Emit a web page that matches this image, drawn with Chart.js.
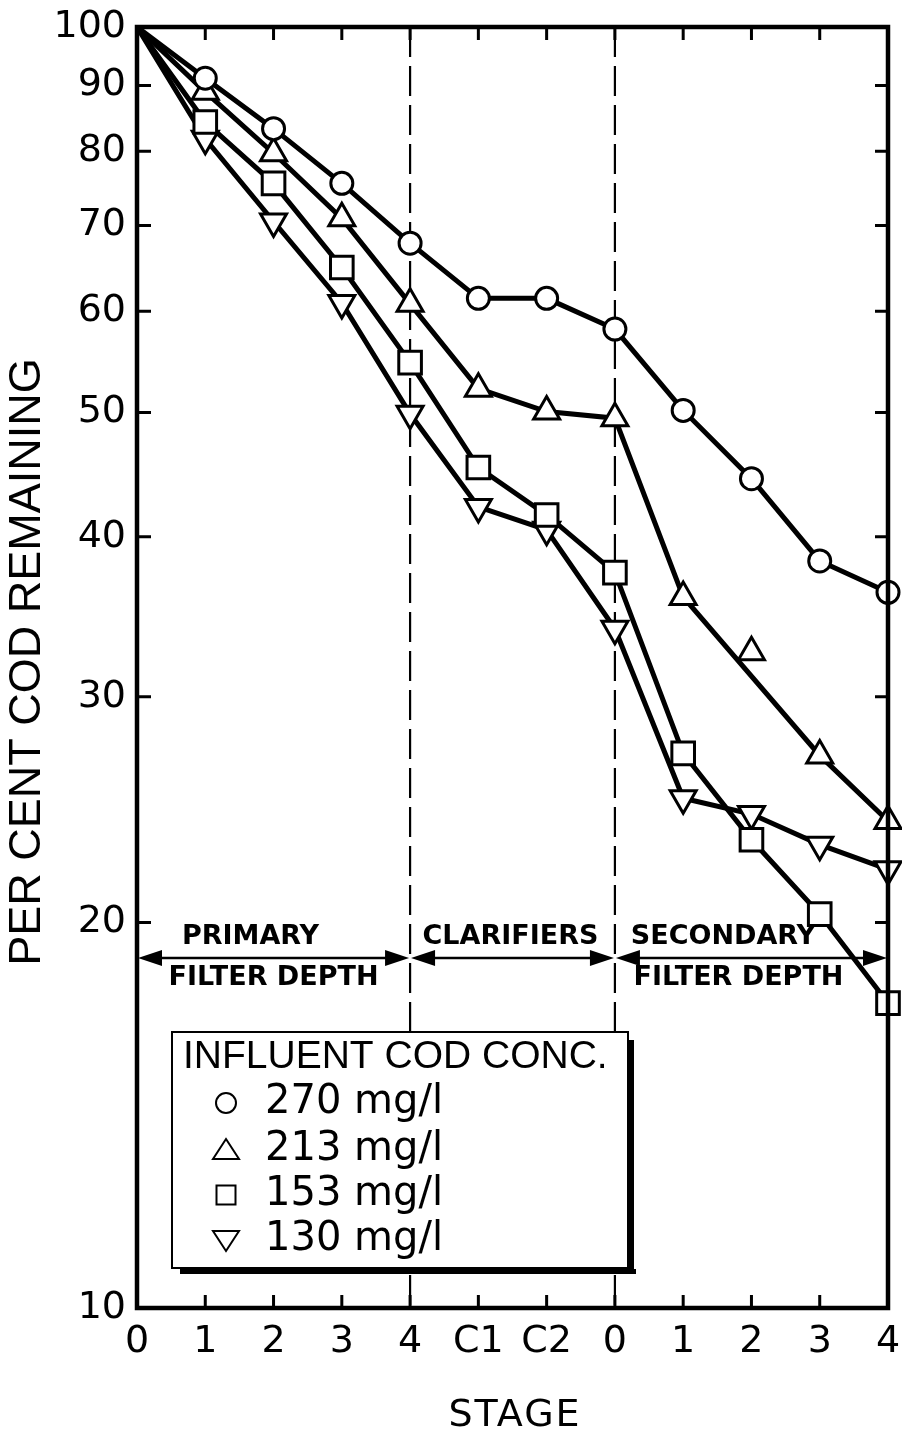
<!DOCTYPE html>
<html>
<head>
<meta charset="utf-8">
<script src="https://cdn.jsdelivr.net/npm/chart.js@4"></script>
<style>
  html, body { margin: 0; padding: 0; background: #fff; }
  canvas { display: block; }
</style>
</head>
<body>
<canvas id="chart" width="902" height="1436"></canvas>
<script>
const stageLabels = ['0', '1', '2', '3', '4', 'C1', 'C2', '0', '1', '2', '3', '4']
const yTickValues = [10, 20, 30, 40, 50, 60, 70, 80, 90, 100]

// per cent COD remaining, one value per stage
const cod270 = [100, 91.2, 83.3, 75.5, 67.8, 61.4, 61.4, 58.1, 50.2, 44.4, 38.3, 36.2]
const cod213 = [100, 89.0, 79.7, 70.9, 60.8, 52.2, 50.1, 49.5, 35.9, 32.5, 27.0, 24.0]
const cod153 = [100, 84.3, 75.5, 64.9, 54.7, 45.3, 41.6, 37.5, 27.1, 23.2, 20.3, 17.3]
const cod130 = [100, 81.8, 70.5, 60.9, 49.9, 42.2, 40.5, 33.9, 25.0, 24.3, 23.0, 22.0]
const cod213LineSkips = [9] // the 213 mg/l line runs past this point

const seriesNames = ['270 mg/l', '213 mg/l', '153 mg/l', '130 mg/l']
const legendTitle = 'INFLUENT COD CONC.'
const yTitle = 'PER CENT COD REMAINING'
const xTitle = 'STAGE'

// stage groups: start/end index on the x axis and their captions
const phaseEdges = [0, 4, 7, 11]
const phaseTop = ['PRIMARY', 'CLARIFIERS', 'SECONDARY']
const phaseBottom = ['FILTER DEPTH', '', 'FILTER DEPTH']

const INK = '#000'

function series(data, style, extra) {
  return {
    data: data,
    borderColor: INK,
    borderWidth: 5,
    backgroundColor: '#fff',
    pointBackgroundColor: '#fff',
    pointBorderColor: INK,
    pointBorderWidth: 3,
    pointStyle: style.shape,
    pointRotation: style.rotation || 0,
    pointRadius: data.map((v, i) => i === 0 ? 0 : style.radius),
    tension: 0,
    clip: false,
    ...extra
  }
}

const circleStyle = { shape: 'circle', radius: 11 }
const triStyle = { shape: 'triangle', radius: 15 }
const rectStyle = { shape: 'rect', radius: 16 }
const downStyle = { shape: 'triangle', radius: 15, rotation: 180 }

let line213 = cod213.map((v, i) => cod213LineSkips.includes(i) ? null : v)
let marks213 = cod213.map((v, i) => cod213LineSkips.includes(i) ? v : null)

function drawArrowHead(ctx, x, y, dir) {
  ctx.beginPath()
  ctx.moveTo(x, y)
  ctx.lineTo(x - dir * 24, y - 8)
  ctx.lineTo(x - dir * 24, y + 8)
  ctx.closePath()
  ctx.fill()
}

function drawSymbol(ctx, shape, x, y) {
  ctx.beginPath()
  if (shape === 'circle') {
    ctx.arc(x, y, 10, 0, Math.PI * 2)
  } else if (shape === 'rect') {
    ctx.rect(x - 9.5, y - 9.5, 19, 19)
  } else if (shape === 'up') {
    ctx.moveTo(x, y - 11); ctx.lineTo(x + 13, y + 9); ctx.lineTo(x - 13, y + 9); ctx.closePath()
  } else {
    ctx.moveTo(x, y + 11); ctx.lineTo(x + 13, y - 9); ctx.lineTo(x - 13, y - 9); ctx.closePath()
  }
  ctx.stroke()
}

const decorations = {
  id: 'decorations',
  beforeDatasetsDraw(chart) {
    const { ctx, chartArea: a, scales: { x } } = chart
    ctx.save()
    ctx.strokeStyle = INK
    ctx.fillStyle = INK

    // dashed separators between the stage groups
    ctx.lineWidth = 2.2
    ctx.setLineDash([30, 9])
    for (const i of phaseEdges.slice(1, -1)) {
      let px = x.getPixelForValue(i)
      ctx.beginPath(); ctx.moveTo(px, a.top); ctx.lineTo(px, a.bottom); ctx.stroke()
    }
    ctx.setLineDash([])

    // double arrows and captions
    const ay = 958
    const topOffsets = [-23, -2, -28]
    const bottomOffsets = [0, 0, -13]
    ctx.lineWidth = 2.5
    ctx.font = 'bold 27px "DejaVu Sans"'
    ctx.textAlign = 'center'
    ctx.textBaseline = 'middle'
    for (let k = 0; k < phaseTop.length; k++) {
      let x0 = x.getPixelForValue(phaseEdges[k])
      let x1 = x.getPixelForValue(phaseEdges[k + 1])
      ctx.beginPath(); ctx.moveTo(x0 + 10, ay); ctx.lineTo(x1 - 10, ay); ctx.stroke()
      drawArrowHead(ctx, x0 + 1, ay, -1)
      drawArrowHead(ctx, x1 - 1, ay, 1)
      let mid = (x0 + x1) / 2
      ctx.fillText(phaseTop[k], mid + topOffsets[k], 937)
      if (phaseBottom[k]) ctx.fillText(phaseBottom[k], mid + bottomOffsets[k], 978)
    }
    ctx.restore()
  },
  afterDatasetsDraw(chart) {
    const { ctx, chartArea: a, scales: { x, y } } = chart
    ctx.save()
    ctx.strokeStyle = INK
    ctx.fillStyle = INK

    // frame with inward ticks on all four sides
    ctx.lineWidth = 4.5
    ctx.strokeRect(a.left, a.top, a.right - a.left, a.bottom - a.top)
    ctx.lineWidth = 3
    ctx.beginPath()
    for (const v of yTickValues) {
      let py = y.getPixelForValue(v)
      ctx.moveTo(a.left, py); ctx.lineTo(a.left + 14, py)
      ctx.moveTo(a.right, py); ctx.lineTo(a.right - 13, py)
    }
    for (let i = 1; i < stageLabels.length - 1; i++) {
      let px = x.getPixelForValue(i)
      ctx.moveTo(px, a.top); ctx.lineTo(px, a.top + 13)
      ctx.moveTo(px, a.bottom); ctx.lineTo(px, a.bottom - 13)
    }
    ctx.stroke()

    // axis titles
    ctx.textAlign = 'center'
    ctx.textBaseline = 'middle'
    ctx.font = '45px "Liberation Sans"'
    ctx.save()
    ctx.translate(28, 662)
    ctx.rotate(-Math.PI / 2)
    ctx.fillText(yTitle, 0, 0)
    ctx.restore()
    ctx.font = '38px "DejaVu Sans"'
    ctx.letterSpacing = '2px'
    ctx.fillText(xTitle, 515, 1416)
    ctx.letterSpacing = '0px'

    // legend box with a drop shadow
    const bx = 172, by = 1032, bw = 456, bh = 236
    ctx.fillRect(bx + 8, by + bh + 1, bw, 5)
    ctx.fillRect(bx + bw + 1, by + 8, 5, bh - 2)
    ctx.fillStyle = '#fff'
    ctx.fillRect(bx, by, bw, bh)
    ctx.fillStyle = INK
    ctx.lineWidth = 2
    ctx.strokeRect(bx, by, bw, bh)
    ctx.textAlign = 'left'
    ctx.font = '39px "Liberation Sans"'
    ctx.fillText(legendTitle, bx + 11, by + 25)
    ctx.font = '40px "DejaVu Sans"'
    const shapes = ['circle', 'up', 'rect', 'down']
    const rowY = [1103, 1150, 1195, 1240]
    for (let k = 0; k < seriesNames.length; k++) {
      drawSymbol(ctx, shapes[k], 226, rowY[k])
      ctx.fillText(seriesNames[k], 265, rowY[k])
    }
    ctx.restore()
  }
}

new Chart(document.getElementById('chart').getContext('2d'), {
  type: 'line',
  data: {
    labels: stageLabels,
    datasets: [
      series(cod270, circleStyle),
      series(line213, triStyle, { spanGaps: true }),
      series(marks213, triStyle, { showLine: false }),
      series(cod153, rectStyle),
      series(cod130, downStyle)
    ]
  },
  plugins: [decorations],
  options: {
    responsive: false,
    animation: false,
    events: [],
    layout: { autoPadding: false, padding: { top: 27, right: 14, bottom: 0, left: 0 } },
    plugins: {
      legend: { display: false },
      tooltip: { enabled: false }
    },
    scales: {
      x: {
        type: 'category',
        offset: false,
        grid: { display: false, drawTicks: false },
        border: { display: false },
        ticks: {
          color: INK,
          padding: 11,
          maxRotation: 0,
          autoSkip: false,
          font: { family: 'DejaVu Sans', size: 38 }
        },
        afterFit: scale => {
          scale.height = 128
          scale.paddingLeft = 0
          scale.paddingRight = 0
        }
      },
      y: {
        type: 'logarithmic',
        min: 10,
        max: 100,
        grid: { display: false, drawTicks: false },
        border: { display: false },
        afterBuildTicks: scale => { scale.ticks = yTickValues.map(v => ({ value: v })) },
        afterFit: scale => {
          scale.width = 137
          scale.paddingTop = 0
          scale.paddingBottom = 0
        },
        ticks: {
          color: INK,
          padding: 11,
          autoSkip: false,
          font: { family: 'DejaVu Sans', size: 38 },
          callback: value => String(value)
        }
      }
    }
  }
})
</script>
</body>
</html>
